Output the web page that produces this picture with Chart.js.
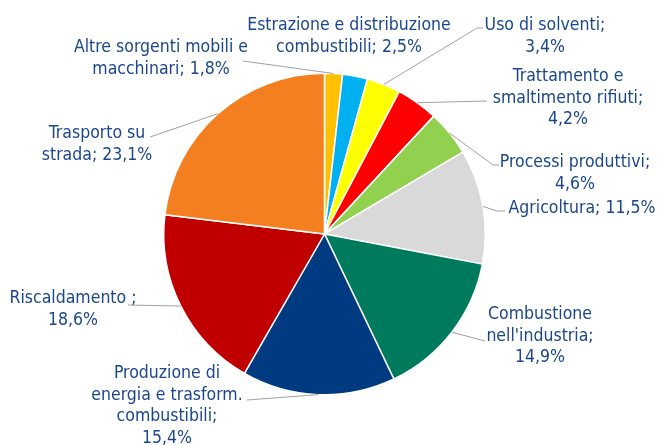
<!DOCTYPE html>
<html>
<head>
<meta charset="utf-8">
<script src="https://cdn.jsdelivr.net/npm/chart.js@4"></script>
<style>
    html, body { margin: 0; padding: 0; background: #fff; }
    #wrap { width: 659px; height: 445px; position: relative; }
</style>
</head>
<body>
<div id="wrap"><canvas id="pieChart" width="659" height="445"></canvas></div>
<script>
// sectors, clockwise from 12 o'clock
const categories = [
    'Altre sorgenti mobili e macchinari',
    'Estrazione e distribuzione combustibili',
    'Uso di solventi',
    'Trattamento e smaltimento rifiuti',
    'Processi produttivi',
    'Agricoltura',
    "Combustione nell'industria",
    'Produzione di energia e trasform. combustibili',
    'Riscaldamento ',
    'Trasporto su strada'
];
const shares = [1.8, 2.5, 3.4, 4.2, 4.6, 11.5, 14.9, 15.4, 18.6, 23.1];
const colors = ['#FFC000', '#00B0F0', '#FFFF00', '#FF0000', '#92D050',
                '#D9D9D9', '#007A5C', '#003A80', '#C00000', '#F47F20'];

// label layout: words per line, centre x, first baseline y, leader start
const labelLayout = [
    { words: [4, 2],       x: 161, y: 52,  lead: [243, 61] },
    { words: [3, 2],       x: 349, y: 30,  lead: null },
    { words: [3, 1],       x: 545, y: 30,  lead: [483, 28], elbow: -6 },
    { words: [2, 2, 1],    x: 568, y: 81,  lead: [487, 101] },
    { words: [2, 1],       x: 575, y: 167, lead: [499, 165], elbow: -6 },
    { words: [2],          x: 582, y: 213, lead: [505, 211], elbow: -8 },
    { words: [1, 1, 1],    x: 540, y: 319, lead: [485, 341] },
    { words: [2, 3, 1, 1], x: 167, y: 378, lead: [247, 400] },
    { words: [2, 1],       x: 73,  y: 303, lead: [128, 305] },
    { words: [2, 2],       x: 97,  y: 138, lead: [150, 137] }
];

const fmt = v => v.toFixed(1).replace('.', ',') + '%';

const pieLabels = {
    id: 'pieLabels',
    afterDatasetsDraw(chart) {
        const ctx = chart.ctx;
        const arcs = chart.getDatasetMeta(0).data;
        ctx.save();
        arcs.forEach((arc, i) => {
            const lay = labelLayout[i];
            const mid = (arc.startAngle + arc.endAngle) / 2;
            const ex = arc.x + Math.cos(mid) * arc.outerRadius;
            const ey = arc.y + Math.sin(mid) * arc.outerRadius;
            if (lay.lead) {
                ctx.strokeStyle = '#A0A0A0';
                ctx.lineWidth = 1;
                ctx.beginPath();
                ctx.moveTo(lay.lead[0], lay.lead[1]);
                if (lay.elbow) ctx.lineTo(lay.lead[0] + lay.elbow, lay.lead[1]);
                ctx.lineTo(ex, ey);
                ctx.stroke();
            }
            const words = (categories[i] + '; ' + fmt(shares[i])).replace(/\s+/g, ' ').split(' ');
            ctx.fillStyle = '#1A468C';
            ctx.font = '17.5px "DejaVu Sans Condensed", "DejaVu Sans", sans-serif';
            ctx.textAlign = 'center';
            ctx.textBaseline = 'alphabetic';
            let k = 0;
            lay.words.forEach((n, li) => {
                const line = words.slice(k, k + n).join(' ');
                k += n;
                ctx.fillText(line, lay.x, lay.y + li * 21.5);
            });
        });
        ctx.restore();
    }
};

new Chart(document.getElementById('pieChart'), {
    type: 'pie',
    data: {
        labels: categories,
        datasets: [{
            data: shares,
            backgroundColor: colors,
            borderColor: '#FFFFFF',
            borderWidth: 1.5
        }]
    },
    options: {
        responsive: false,
        animation: false,
        layout: { padding: { top: 72.5, bottom: 49.5, left: 163, right: 173 } },
        plugins: {
            legend: { display: false },
            tooltip: { enabled: false }
        }
    },
    plugins: [pieLabels]
});
</script>
</body>
</html>
